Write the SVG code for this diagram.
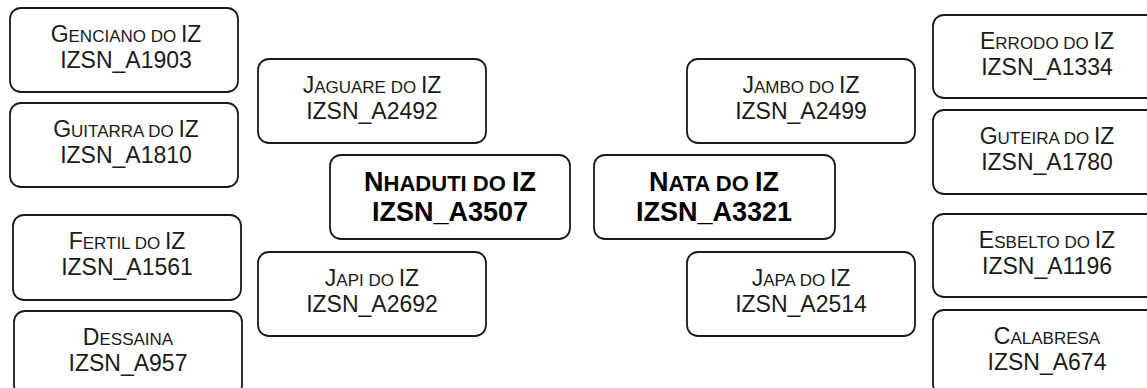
<svg xmlns="http://www.w3.org/2000/svg" width="1147" height="388" viewBox="0 0 1147 388">
<style>
.box{fill:#fff;stroke:#1a1a1a;stroke-width:1.8}
.t{font-family:"Liberation Sans",Arial,sans-serif;font-size:23px;fill:#1a1a1a;text-anchor:middle}
.s{font-size:17px}
.b{font-family:"Liberation Sans",Arial,sans-serif;font-size:27px;font-weight:bold;fill:#000;text-anchor:middle}
.bs{font-size:22px}
</style>
<rect width="1147" height="388" fill="#fff"/>
<g id="connectors"/>
<g id="genciano"><rect class="box" x="10" y="8" width="228" height="84" rx="11"/>
<text class="t" x="126" y="42">G<tspan class="s">ENCIANO DO </tspan>IZ</text><text class="t" x="126" y="68">IZSN_A1903</text></g>
<g id="guitarra"><rect class="box" x="10" y="103" width="228" height="84" rx="11"/>
<text class="t" x="126" y="137">G<tspan class="s">UITARRA DO </tspan>IZ</text><text class="t" x="126" y="163">IZSN_A1810</text></g>
<g id="fertil"><rect class="box" x="13" y="215" width="228" height="85" rx="11"/>
<text class="t" x="127" y="249">F<tspan class="s">ERTIL DO </tspan>IZ</text><text class="t" x="127" y="275">IZSN_A1561</text></g>
<g id="dessaina"><rect class="box" x="14" y="311" width="228" height="85" rx="11"/>
<text class="t" x="128" y="345">D<tspan class="s">ESSAINA</tspan></text><text class="t" x="128" y="371">IZSN_A957</text></g>
<g id="jaguare"><rect class="box" x="258" y="59" width="228" height="84" rx="11"/>
<text class="t" x="372" y="93">J<tspan class="s">AGUARE DO </tspan>IZ</text><text class="t" x="372" y="119">IZSN_A2492</text></g>
<g id="japi"><rect class="box" x="258" y="252" width="228" height="84" rx="11"/>
<text class="t" x="372" y="286">J<tspan class="s">API DO </tspan>IZ</text><text class="t" x="372" y="312">IZSN_A2692</text></g>
<g id="nhaduti"><rect class="box" x="330" y="155" width="240" height="84" rx="11"/>
<text class="b" x="450" y="191">N<tspan class="bs">HADUTI DO </tspan>IZ</text><text class="b" x="450" y="221">IZSN_A3507</text></g>
<g id="nata"><rect class="box" x="594" y="155" width="241" height="84" rx="11"/>
<text class="b" x="714" y="191">N<tspan class="bs">ATA DO </tspan>IZ</text><text class="b" x="714" y="221">IZSN_A3321</text></g>
<g id="jambo"><rect class="box" x="687" y="59" width="228" height="84" rx="11"/>
<text class="t" x="801" y="93">J<tspan class="s">AMBO DO </tspan>IZ</text><text class="t" x="801" y="119">IZSN_A2499</text></g>
<g id="japa"><rect class="box" x="687" y="252" width="228" height="84" rx="11"/>
<text class="t" x="801" y="286">J<tspan class="s">APA DO </tspan>IZ</text><text class="t" x="801" y="312">IZSN_A2514</text></g>
<g id="errodo"><rect class="box" x="933" y="15" width="228" height="83" rx="11"/>
<text class="t" x="1047" y="49">E<tspan class="s">RRODO DO </tspan>IZ</text><text class="t" x="1047" y="75">IZSN_A1334</text></g>
<g id="guteira"><rect class="box" x="933" y="110" width="228" height="84" rx="11"/>
<text class="t" x="1047" y="144">G<tspan class="s">UTEIRA DO </tspan>IZ</text><text class="t" x="1047" y="170">IZSN_A1780</text></g>
<g id="esbelto"><rect class="box" x="933" y="214" width="228" height="83" rx="11"/>
<text class="t" x="1047" y="248">E<tspan class="s">SBELTO DO </tspan>IZ</text><text class="t" x="1047" y="274">IZSN_A1196</text></g>
<g id="calabresa"><rect class="box" x="933" y="310" width="228" height="85" rx="11"/>
<text class="t" x="1047" y="344">C<tspan class="s">ALABRESA</tspan></text><text class="t" x="1047" y="370">IZSN_A674</text></g>
</svg>
